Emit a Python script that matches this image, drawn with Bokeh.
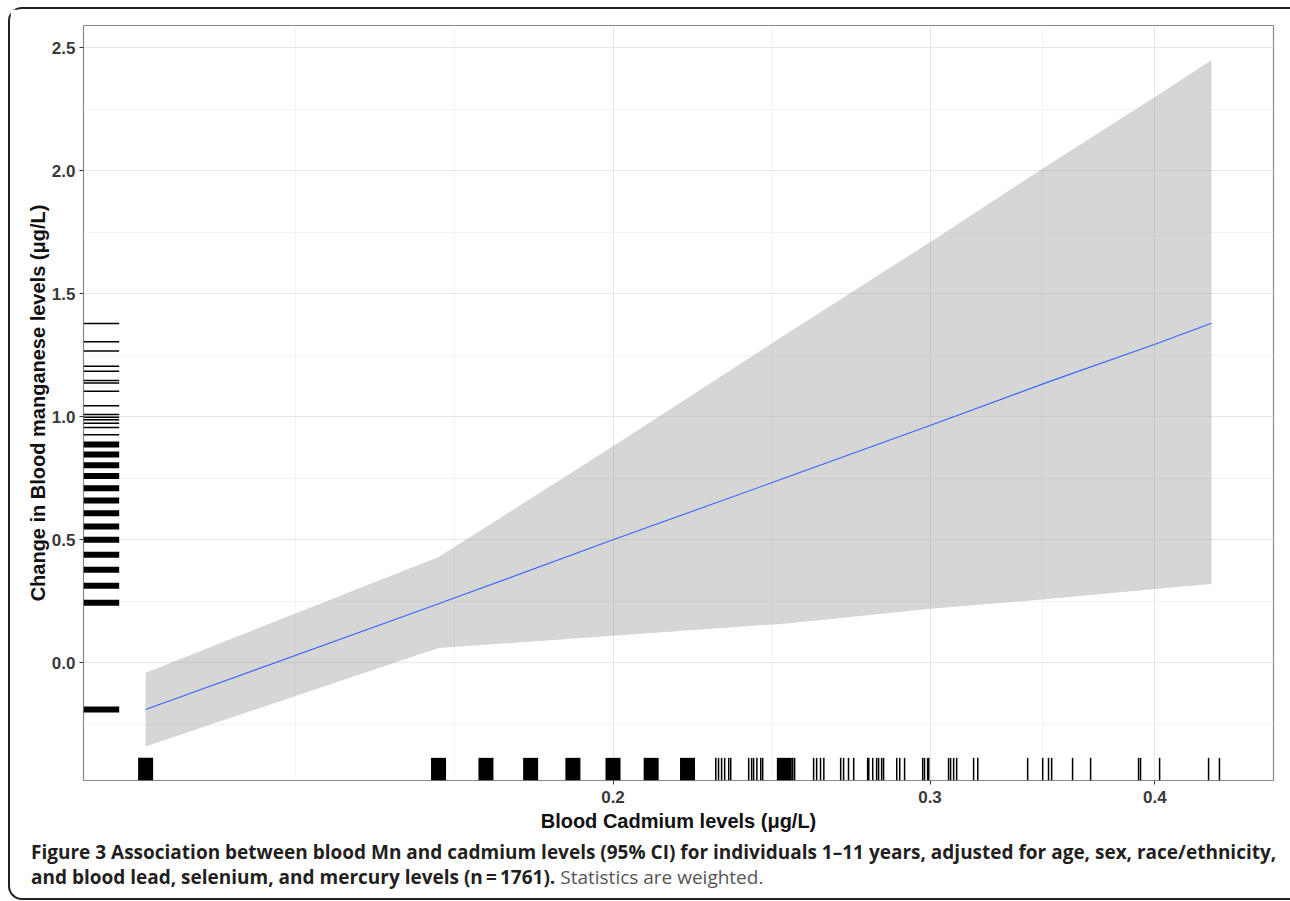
import math
from bokeh.plotting import figure
from bokeh.layouts import column
from bokeh.models import FixedTicker, PrintfTickFormatter, BasicTickFormatter, Range1d, Div
from bokeh.embed import file_html
from bokeh.resources import INLINE

# ---- data ----
fit_x = [0.11, 0.16, 0.20, 0.25, 0.30, 0.35, 0.40, 0.43]
fit_y = [-0.19, 0.24, 0.50, 0.755, 0.965, 1.145, 1.295, 1.38]
ci_upper = [-0.04, 0.43, 0.88, 1.34, 1.71, 2.03, 2.30, 2.45]
ci_lower = [-0.34, 0.06, 0.11, 0.16, 0.22, 0.26, 0.30, 0.32]

rug_x_dense = [0.11, 0.16, 0.17, 0.18, 0.19, 0.20, 0.21, 0.22, 0.249]
rug_x_sparse = [0.2281, 0.2289, 0.2298, 0.2307, 0.2319, 0.2325,
                0.2379, 0.2388, 0.2394, 0.2404, 0.2416, 0.2422,
                0.2517, 0.2523,
                0.2585, 0.2595, 0.2608, 0.2619,
                0.2676, 0.2686, 0.2703, 0.2721,
                0.2770, 0.2774, 0.2788, 0.2802, 0.2809, 0.2820, 0.2827,
                0.2875, 0.2886, 0.2904,
                0.2972, 0.2979, 0.2991, 0.2995,
                0.3072, 0.3080, 0.3092, 0.3104,
                0.3172, 0.3189,
                0.3399,
                0.3465, 0.3491, 0.3505,
                0.3600, 0.3684,
                0.3917, 0.3927,
                0.4024,
                0.4284, 0.4344]
rug_y_dense = [0.887, 0.847, 0.803, 0.759, 0.710, 0.660, 0.608, 0.554,
               0.500, 0.439, 0.378, 0.313, 0.244, -0.190]
rug_y_sparse = [1.379, 1.305, 1.267, 1.206, 1.185, 1.148, 1.137, 1.104,
                1.045, 1.009, 0.998, 0.988, 0.974, 0.956, 0.927]

x_ticks = [0.2, 0.3, 0.4]
x_minor = [0.1333, 0.1633, 0.2449, 0.3464]
y_ticks = [0.0, 0.5, 1.0, 1.5, 2.0, 2.5]
y_minor = [-0.25, 0.25, 0.75, 1.25, 1.75, 2.25]

x_label = "Blood Cadmium levels (\u03bcg/L)"
y_label = "Change in Blood manganese levels (\u03bcg/L)"
cap1 = "Figure 3 Association between blood Mn and cadmium levels (95% CI) for individuals 1\u201311 years, adjusted for age, sex, race/ethnicity,"
cap2 = "and blood lead, selenium, and mercury levels (n\u2009=\u20091761)."
cap3 = "Statistics are weighted."

# ---- layout ----
X0, X1 = 0.1016, 0.4655
Y0, Y1 = -0.4785, 2.5907
W, H = 1280, 826

p = figure(width=W, height=H, x_axis_type="log", output_backend="svg",
           toolbar_location=None, x_range=Range1d(X0, X1), y_range=Range1d(Y0, Y1),
           min_border_left=73, min_border_right=17, min_border_top=16, min_border_bottom=55)

p.background_fill_color = "white"
p.border_fill_color = "white"
p.outline_line_color = "#8a8a8a"
p.outline_line_width = 1.2

# axes
p.xaxis.ticker = FixedTicker(ticks=x_ticks, minor_ticks=x_minor)
p.yaxis.ticker = FixedTicker(ticks=y_ticks, minor_ticks=y_minor)
p.xaxis.formatter = BasicTickFormatter()
p.xaxis.major_label_overrides = {t: f"{t:.1f}" for t in x_ticks}
p.yaxis.formatter = PrintfTickFormatter(format="%.1f")
for ax in (p.xaxis[0], p.yaxis[0]):
    ax.axis_line_color = None
    ax.minor_tick_line_color = None
    ax.major_tick_line_color = "#333333"
    ax.major_tick_out = 4
    ax.major_tick_in = 0
    ax.major_label_text_font = "Liberation Sans"
    ax.major_label_text_font_style = "bold"
    ax.major_label_text_font_size = "17px"
    ax.major_label_text_color = "#3a3a3a"
    ax.axis_label_text_font = "Liberation Sans"
    ax.axis_label_text_font_style = "bold"
    ax.axis_label_text_font_size = "20px"
    ax.axis_label_text_color = "#111111"
p.xaxis.axis_label = x_label
p.yaxis.axis_label = y_label
p.xaxis.major_label_standoff = 6
p.yaxis.major_label_standoff = 4
p.xaxis.axis_label_standoff = 4
p.yaxis.axis_label_standoff = 0

p.xgrid.grid_line_color = "#e6e6e6"
p.ygrid.grid_line_color = "#e6e6e6"
p.xgrid.minor_grid_line_color = "#f3f3f3"
p.ygrid.minor_grid_line_color = "#f3f3f3"

# ---- CI band and fit ----
band_xs = fit_x + fit_x[::-1]
band_ys = ci_upper + ci_lower[::-1]
p.patch(band_xs, band_ys, fill_color="#999999", fill_alpha=0.4, line_color=None)
p.line(fit_x, fit_y, line_color="#3366FF", line_width=1.1)

# ---- rugs (3% of panel) ----
rug_y_top = Y0 + 0.03 * (Y1 - Y0)
rug_x_end = math.exp(math.log(X0) + 0.03 * (math.log(X1) - math.log(X0)))

p.segment(x0=rug_x_dense, x1=rug_x_dense, y0=[Y0] * len(rug_x_dense), y1=[rug_y_top] * len(rug_x_dense),
          line_color="black", line_width=15)
p.segment(x0=rug_x_sparse, x1=rug_x_sparse, y0=[Y0] * len(rug_x_sparse), y1=[rug_y_top] * len(rug_x_sparse),
          line_color="black", line_width=1.5)
p.segment(x0=[X0] * len(rug_y_dense), x1=[rug_x_end] * len(rug_y_dense), y0=rug_y_dense, y1=rug_y_dense,
          line_color="black", line_width=6)
p.segment(x0=[X0] * len(rug_y_sparse), x1=[rug_x_end] * len(rug_y_sparse), y0=rug_y_sparse, y1=rug_y_sparse,
          line_color="black", line_width=1.5)

# ---- caption ----
caption_html = (
    "<div style=\"font-family:'Open Sans'; font-size:19px; line-height:25px; "
    "color:#231f20; white-space:nowrap; padding:0px 0 0 16px;\">"
    f"<b>{cap1}</b><br><b>{cap2}</b> "
    f"<span style=\"color:#555555; font-weight:normal;\">{cap3}</span></div>"
)
cap = Div(text=caption_html, width=W, height=53)

layout = column(p, cap, spacing=0,
                styles={"margin": "7px 0px 0px 8px",
                        "border-left": "2px solid #222", "border-top": "2px solid #222",
                        "border-bottom": "2px solid #222", "border-top-left-radius": "14px",
                        "border-bottom-left-radius": "14px", "background": "white"})

open("out.html", "w").write(file_html(layout, INLINE))
